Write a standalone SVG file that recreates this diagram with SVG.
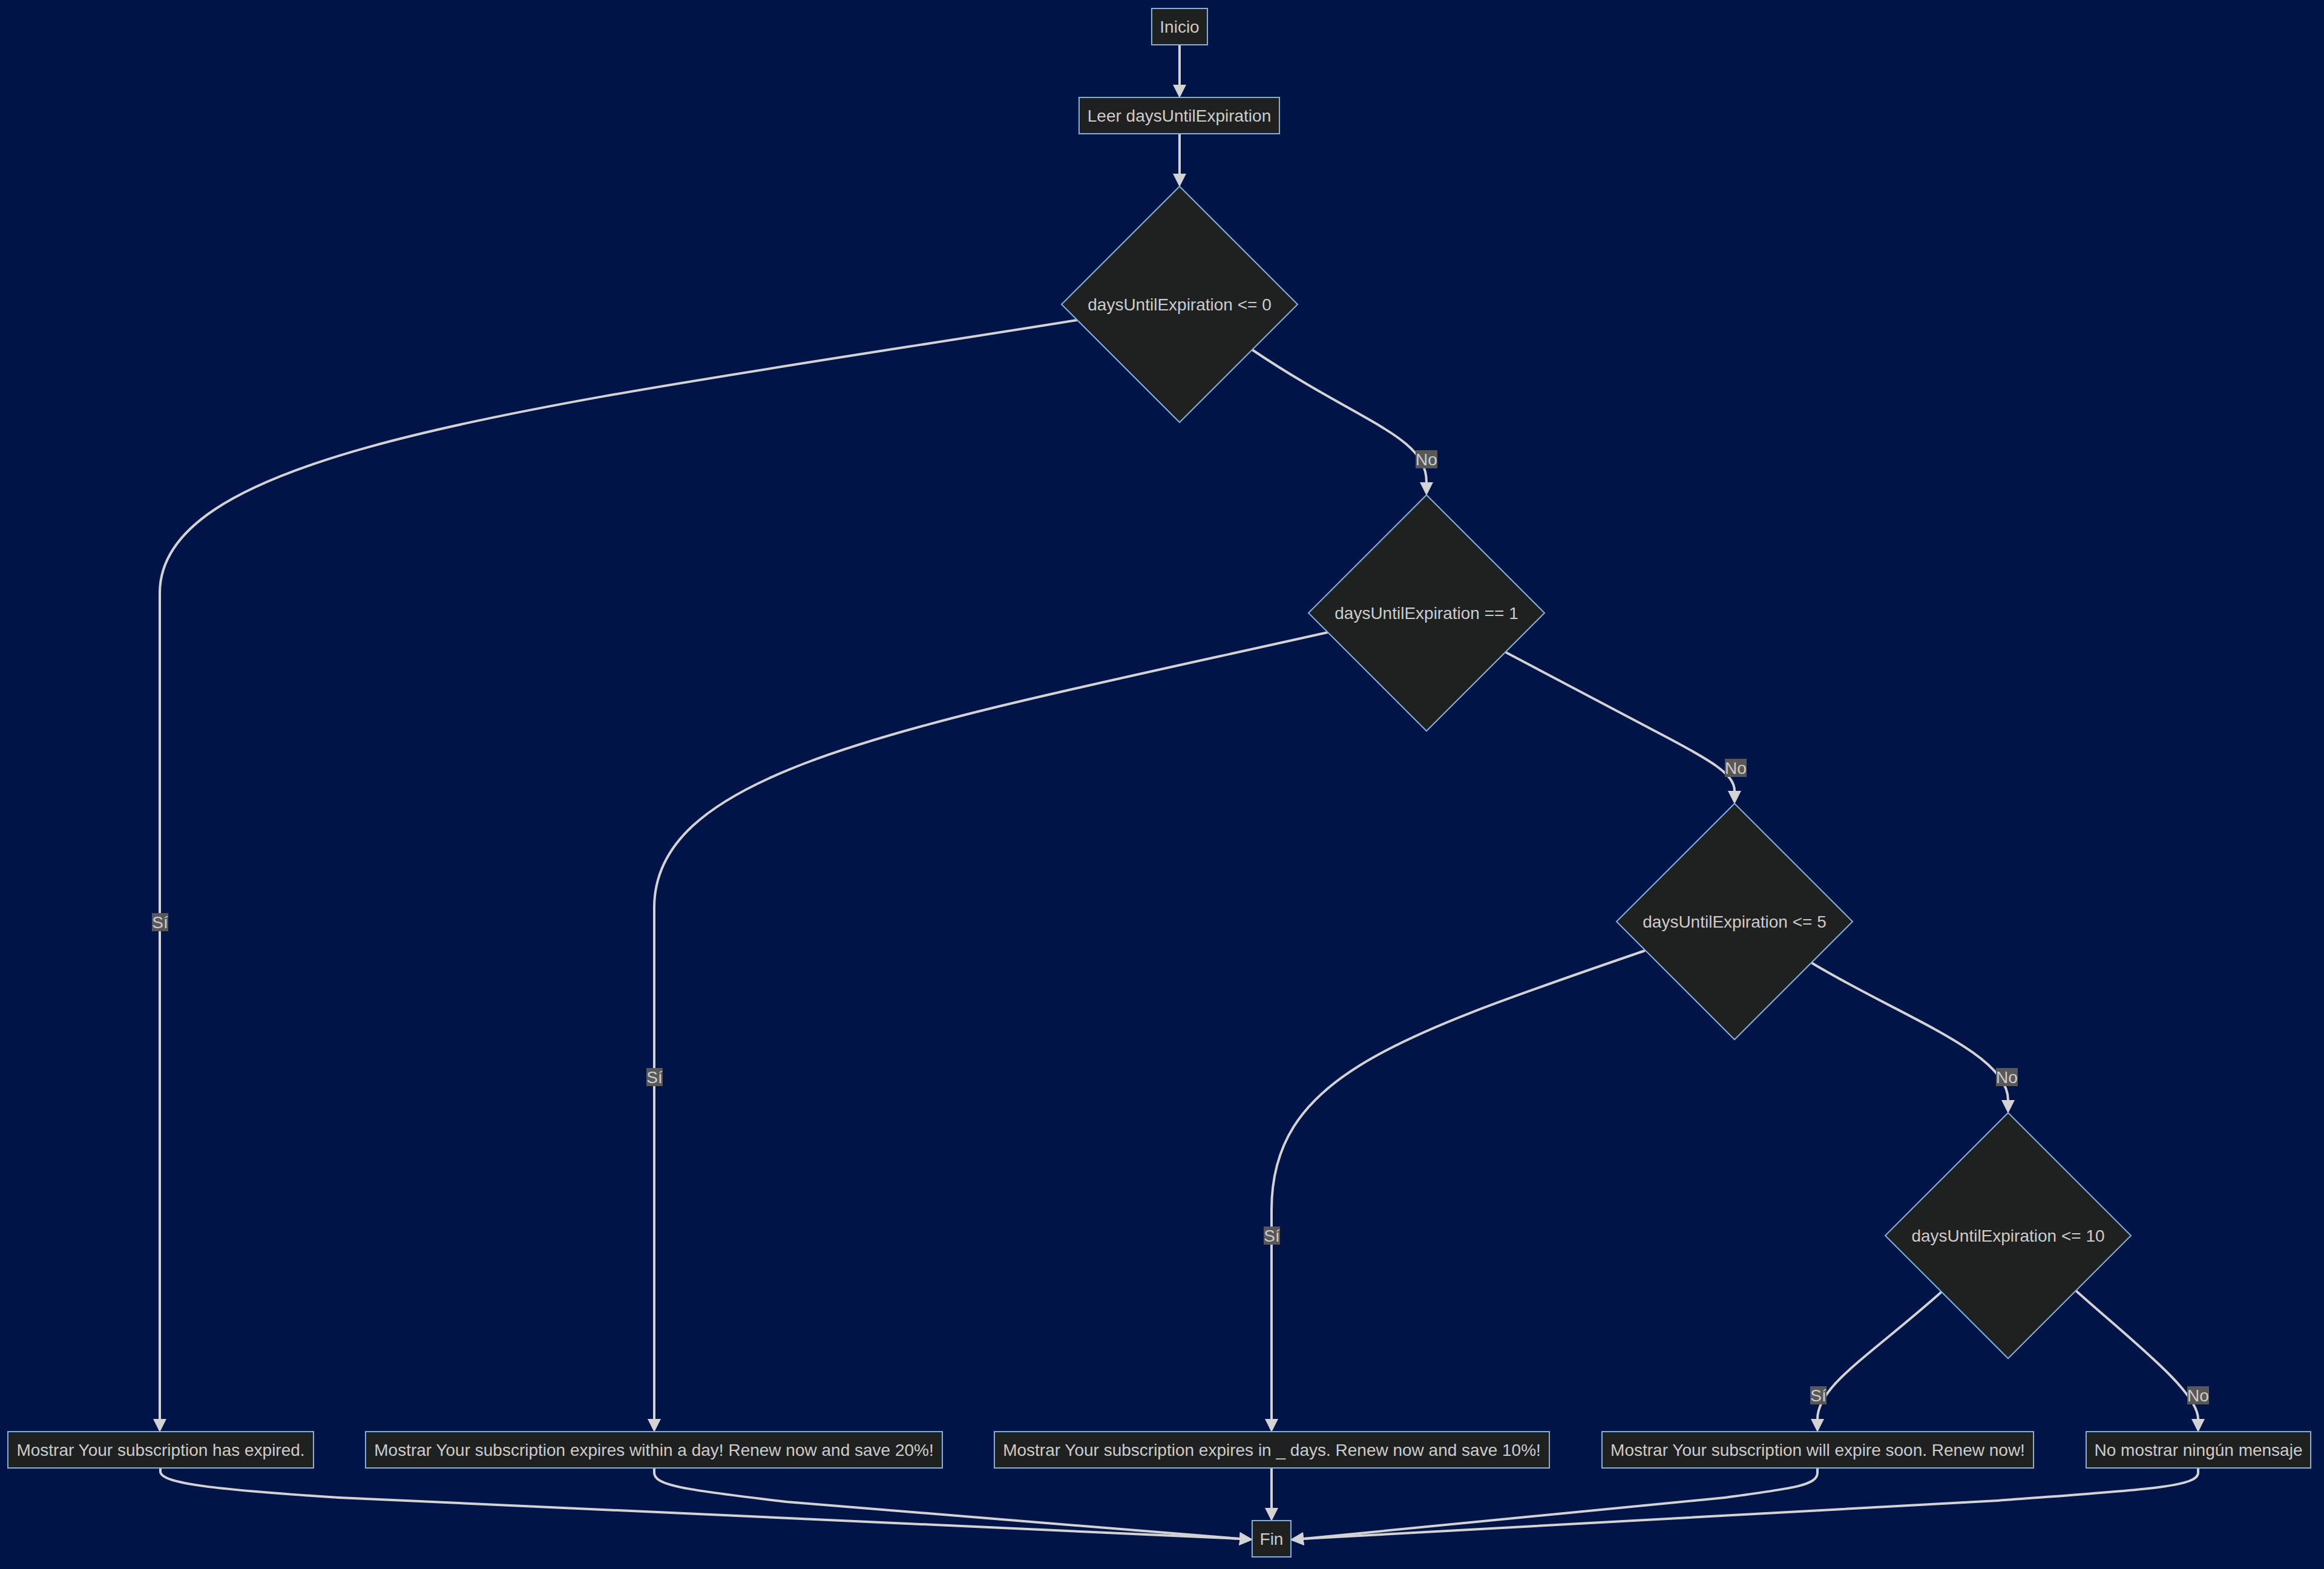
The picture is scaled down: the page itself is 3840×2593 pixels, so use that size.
<svg xmlns="http://www.w3.org/2000/svg" width="3840" height="2593" viewBox="0 0 3840 2593">
<style>
.node rect, .node polygon { fill: #1f2020; stroke: #81b1db; stroke-width: 2; }
.node text { font-family: "Liberation Sans", Arial, sans-serif; font-size: 28px; fill: #cccccc; text-anchor: middle; }
.edge { fill: none; stroke: #d3d3d3; stroke-width: 4; }
.lbl rect { fill: #585858; }
.lbl text { font-family: "Liberation Sans", Arial, sans-serif; font-size: 28px; fill: #cccccc; text-anchor: middle; }
</style>
<defs>
<marker id="arr" markerUnits="userSpaceOnUse" markerWidth="22" markerHeight="22" viewBox="0 0 21 21" refX="0" refY="10.5" orient="auto">
<path d="M0,0 L21,10.5 L0,21 z" fill="#d3d3d3"/>
</marker>
</defs>
<rect x="0" y="0" width="3840" height="2593" fill="#001448"/>
<g id="connectors">
<path class="edge" marker-end="url(#arr)" d="M1949,74 L1949,140"/>
<path class="edge" marker-end="url(#arr)" d="M1949,221 L1949,287"/>
<path class="edge" marker-end="url(#arr)" d="M1780,529 C900,670 264,740 264,980 L264,2345"/>
<path class="edge" marker-end="url(#arr)" d="M2069,578 C2250,700 2357,720 2357,797"/>
<path class="edge" marker-end="url(#arr)" d="M2194,1045 C1500,1200 1081,1270 1081,1500 L1081,2345"/>
<path class="edge" marker-end="url(#arr)" d="M2488,1078 L2740,1211 C2830,1258 2866,1280 2866,1307"/>
<path class="edge" marker-end="url(#arr)" d="M2718,1571 C2300,1715 2101,1780 2101,2000 L2101,2345"/>
<path class="edge" marker-end="url(#arr)" d="M2993,1591 C3140,1680 3318,1740 3318,1818"/>
<path class="edge" marker-end="url(#arr)" d="M3208,2135 C3090,2240 3003,2290 3003,2345"/>
<path class="edge" marker-end="url(#arr)" d="M3430,2133 C3525,2218 3632,2300 3632,2345"/>
<path class="edge" marker-end="url(#arr)" d="M265,2426 L265,2432 C265,2452 360,2462 560,2475 L2048,2543"/>
<path class="edge" marker-end="url(#arr)" d="M1081,2426 L1081,2434 C1081,2455 1130,2462 1300,2482 L2048,2543"/>
<path class="edge" marker-end="url(#arr)" d="M2101,2426 L2101,2492"/>
<path class="edge" marker-end="url(#arr)" d="M3003,2426 L3003,2434 C3003,2455 2960,2460 2850,2475 L2154,2543"/>
<path class="edge" marker-end="url(#arr)" d="M3632,2426 L3632,2434 C3632,2458 3540,2462 3300,2480 L2154,2543"/>
</g>
<g id="edge-labels">
<g class="lbl"><rect x="251" y="1509" width="27" height="30"/><text x="264.5" y="1534">Sí</text></g>
<g class="lbl"><rect x="2339" y="744" width="36" height="30"/><text x="2357" y="769">No</text></g>
<g class="lbl"><rect x="1068" y="1765" width="27" height="30"/><text x="1081.5" y="1790">Sí</text></g>
<g class="lbl"><rect x="2850" y="1254" width="36" height="30"/><text x="2868" y="1279">No</text></g>
<g class="lbl"><rect x="2088" y="2027" width="27" height="30"/><text x="2101.5" y="2052">Sí</text></g>
<g class="lbl"><rect x="3298" y="1765" width="36" height="30"/><text x="3316" y="1790">No</text></g>
<g class="lbl"><rect x="2991" y="2291" width="27" height="30"/><text x="3004.5" y="2316">Sí</text></g>
<g class="lbl"><rect x="3614" y="2291" width="36" height="30"/><text x="3632" y="2316">No</text></g>
</g>
<g id="inicio" class="node"><rect x="1903" y="14" width="92" height="60"/><text x="1949" y="54">Inicio</text></g>
<g id="leer" class="node"><rect x="1783" y="161" width="331" height="60"/><text x="1948.5" y="201">Leer daysUntilExpiration</text></g>
<g id="d1" class="node"><polygon points="1949,308 2144,503 1949,698 1754,503"/><text x="1949" y="513">daysUntilExpiration &lt;= 0</text></g>
<g id="d2" class="node"><polygon points="2357,818 2552,1013 2357,1208 2162,1013"/><text x="2357" y="1023">daysUntilExpiration == 1</text></g>
<g id="d3" class="node"><polygon points="2866,1328 3061,1523 2866,1718 2671,1523"/><text x="2866" y="1533">daysUntilExpiration &lt;= 5</text></g>
<g id="d4" class="node"><polygon points="3318,1839 3521,2042 3318,2245 3115,2042"/><text x="3318" y="2052">daysUntilExpiration &lt;= 10</text></g>
<g id="box1" class="node"><rect x="13" y="2366" width="505" height="60"/><text x="265.5" y="2406">Mostrar Your subscription has expired.</text></g>
<g id="box2" class="node"><rect x="604" y="2366" width="953" height="60"/><text x="1080.5" y="2406">Mostrar Your subscription expires within a day! Renew now and save 20%!</text></g>
<g id="box3" class="node"><rect x="1643" y="2366" width="917" height="60"/><text x="2101.5" y="2406">Mostrar Your subscription expires in _ days. Renew now and save 10%!</text></g>
<g id="box4" class="node"><rect x="2647" y="2366" width="713" height="60"/><text x="3003.5" y="2406">Mostrar Your subscription will expire soon. Renew now!</text></g>
<g id="box5" class="node"><rect x="3447" y="2366" width="371" height="60"/><text x="3632.5" y="2406">No mostrar ningún mensaje</text></g>
<g id="fin" class="node"><rect x="2069" y="2513" width="64" height="60"/><text x="2101" y="2553">Fin</text></g>
</svg>
